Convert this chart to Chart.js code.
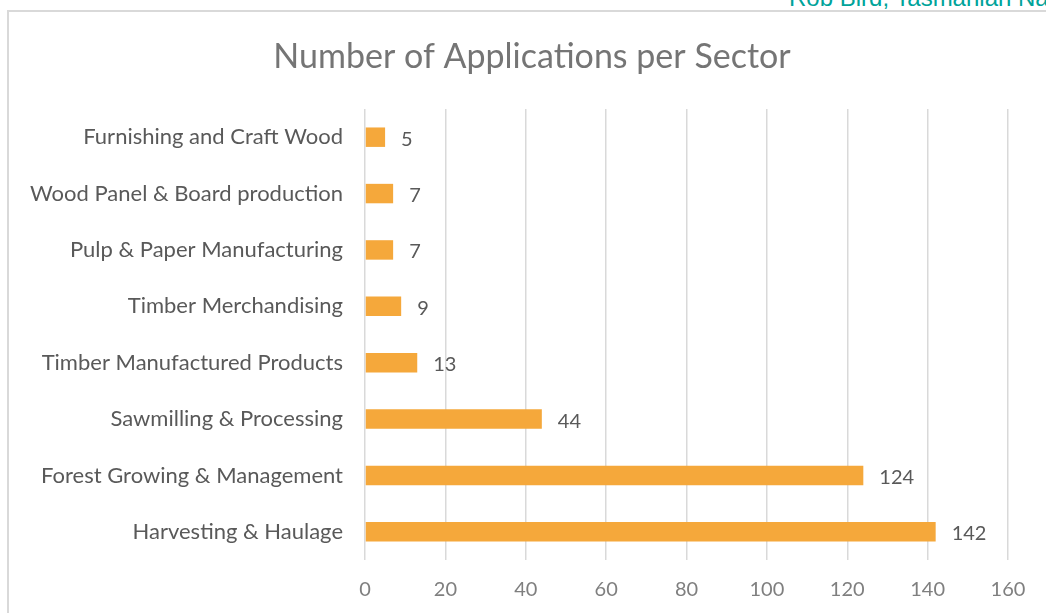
<!DOCTYPE html>
<html>
<head>
<meta charset="utf-8">
<script src="https://cdn.jsdelivr.net/npm/chart.js@4"></script>
<style>
  html, body { margin: 0; padding: 0; background: #fff; overflow: hidden; }
  #wrap { position: relative; width: 1046px; height: 613px; overflow: hidden; }
  #frame { position: absolute; left: 7px; top: 10px; width: 1100px; height: 700px; border-left: 2px solid #d9d9d9; border-top: 2px solid #d9d9d9; box-sizing: border-box; }
  #credit { position: absolute; left: 789px; top: -14px; font-family: "Liberation Sans", Arial, sans-serif; font-size: 24px; line-height: 24px; color: #00a39a; white-space: nowrap; }
  canvas { position: absolute; left: 0; top: 0; }
</style>
</head>
<body>
<div id="wrap">
  <div id="frame"></div>
  <div id="credit">Rob Bird, Tasmanian Na</div>
  <canvas id="c" width="1046" height="613"></canvas>
</div>
<script>
const chartTitle = "Number of Applications per Sector";
const categories = [
  "Furnishing and Craft Wood",
  "Wood Panel & Board production",
  "Pulp & Paper Manufacturing",
  "Timber Merchandising",
  "Timber Manufactured Products",
  "Sawmilling & Processing",
  "Forest Growing & Management",
  "Harvesting & Haulage"
];
const applications = [5, 7, 7, 9, 13, 44, 124, 142];
const xTicks = [0, 20, 40, 60, 80, 100, 120, 140, 160];

const FONT = "Lato, 'Open Sans', sans-serif";

const valueLabels = {
  id: 'valueLabels',
  afterDatasetsDraw(chart) {
    const ctx = chart.ctx;
    const meta = chart.getDatasetMeta(0);
    ctx.save();
    ctx.font = "20px " + FONT;
    ctx.fillStyle = "#595959";
    ctx.textAlign = "left";
    ctx.textBaseline = "middle";
    meta.data.forEach((bar, i) => {
      ctx.fillText(String(chart.data.datasets[0].data[i]), bar.x + 16, bar.y + 2);
    });
    ctx.restore();
  }
};

const titlePlugin = {
  id: 'titleText',
  afterDraw(chart) {
    const ctx = chart.ctx;
    ctx.save();
    ctx.font = "34px " + FONT;
    ctx.fillStyle = "#757575";
    ctx.textAlign = "center";
    ctx.textBaseline = "middle";
    ctx.fillText(chartTitle, chart.width / 2 + 9, 57);
    ctx.restore();
  }
};

new Chart(document.getElementById('c'), {
  type: 'bar',
  data: {
    labels: categories,
    datasets: [{
      data: applications,
      backgroundColor: '#f5a83b',
      borderWidth: 0,
      categoryPercentage: 1,
      barPercentage: 0.345
    }]
  },
  options: {
    indexAxis: 'y',
    responsive: false,
    animation: false,
    devicePixelRatio: 1,
    layout: { padding: { left: 0, right: 38, top: 109, bottom: 0 } },
    plugins: {
      legend: { display: false },
      tooltip: { enabled: false },
      title: { display: false }
    },
    scales: {
      x: {
        min: 0,
        max: 160,
        afterBuildTicks(scale) { scale.ticks = xTicks.map(v => ({ value: v })); },
        grid: { color: '#d9d9d9', lineWidth: 1.5, drawTicks: false },
        border: { display: false },
        ticks: { color: '#7f7f7f', font: { family: FONT, size: 20 }, padding: 18 },
        afterFit(scale) { scale.height = 53; }
      },
      y: {
        grid: { display: false, drawTicks: false },
        border: { display: false },
        ticks: { color: '#595959', font: { family: FONT, size: 22 }, padding: 22 },
        afterFit(scale) { scale.width = 365; }
      }
    }
  },
  plugins: [valueLabels, titlePlugin]
});
</script>
</body>
</html>
